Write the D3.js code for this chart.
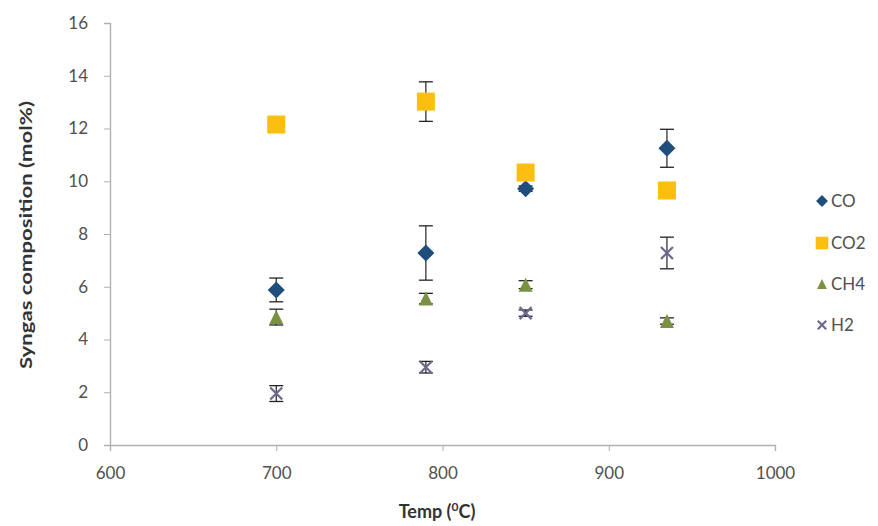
<!DOCTYPE html>
<html><head><meta charset="utf-8">
<script src="https://cdn.jsdelivr.net/npm/d3@7"></script>
<style>body{margin:0;background:#fff}svg{display:block}</style>
</head><body><svg id="c" width="878" height="526"></svg>
<script>
const temps = [700, 790, 850, 935];
const seriesNames = ["CO", "CO2", "CH4", "H2"];
const coVals  = [5.88, 7.28, 9.72, 11.25];
const coErr   = [0.45, 1.03, 0.1, 0.72];
const co2Vals = [12.15, 13.02, 10.33, 9.65];
const co2Err  = [0.1, 0.75, 0.1, 0.1];
const ch4Vals = [4.85, 5.55, 6.08, 4.7];
const ch4Err  = [0.3, 0.2, 0.15, 0.12];
const h2Vals  = [1.95, 2.95, 5.0, 7.28];
const h2Err   = [0.3, 0.22, 0.12, 0.6];
const xTicks = [600, 700, 800, 900, 1000];
const yTicks = [0, 2, 4, 6, 8, 10, 12, 14, 16];

const svg = d3.select("#c");
const x = d3.scaleLinear().domain([600, 1000]).range([110, 775]);
const y = d3.scaleLinear().domain([0, 16]).range([445, 23]);
const font = "Lato, 'Open Sans', sans-serif";

const yAxis = svg.append("g").attr("transform", "translate(110,0)")
  .call(d3.axisLeft(y).tickValues(yTicks).tickFormat(d3.format("d")).tickSize(6).tickPadding(16));
const xAxis = svg.append("g").attr("transform", "translate(0,445)")
  .call(d3.axisBottom(x).tickValues(xTicks).tickFormat(d3.format("d")).tickSize(6).tickPadding(16));
[yAxis, xAxis].forEach(a => {
  a.select(".domain").attr("stroke", "#b0b0b0").attr("stroke-width", 1.4);
  a.selectAll(".tick line").attr("stroke", "#b0b0b0");
  a.selectAll(".tick text").attr("fill", "#505050").style("font-family", font).style("font-size", "17px");
});

svg.append("text").attr("transform", "translate(32,235) rotate(-90)")
  .attr("text-anchor", "middle").style("font-family", font).style("font-size", "17px")
  .style("font-weight", "bold").attr("fill", "#333")
  .attr("textLength", 268).attr("lengthAdjust", "spacingAndGlyphs")
  .text("Syngas composition (mol%)");
const xt = svg.append("text").attr("x", 437).attr("y", 518).attr("text-anchor", "middle")
  .style("font-family", font).style("font-size", "18px").style("font-weight", "bold").attr("fill", "#333");
xt.append("tspan").text("Temp (");
xt.append("tspan").attr("dy", -7).style("font-size", "12px").text("0");
xt.append("tspan").attr("dy", 7).text("C)");

const series = [
  {name: "CO", vals: coVals, err: coErr, color: "#1f4e7d", shape: "diamond"},
  {name: "CO2", vals: co2Vals, err: co2Err, color: "#fdbf0f", shape: "square"},
  {name: "CH4", vals: ch4Vals, err: ch4Err, color: "#7a9143", shape: "triangle"},
  {name: "H2", vals: h2Vals, err: h2Err, color: "#6b6990", shape: "x"}
];

function marker(g, s, cx, cy, scale) {
  scale = scale || 1;
  if (s.shape === "diamond") {
    const r = 8.5 * scale;
    g.append("path").attr("d", `M${cx},${cy - r}L${cx + r},${cy}L${cx},${cy + r}L${cx - r},${cy}Z`)
      .attr("fill", s.color);
  } else if (s.shape === "square") {
    const w = 18 * scale;
    g.append("rect").attr("x", cx - w / 2).attr("y", cy - w / 2).attr("width", w).attr("height", w).attr("fill", s.color);
  } else if (s.shape === "triangle") {
    const h = 14 * scale, w = 14 * scale;
    g.append("path").attr("d", `M${cx},${cy - h / 2}L${cx + w / 2},${cy + h / 2}L${cx - w / 2},${cy + h / 2}Z`)
      .attr("fill", s.color);
  } else {
    const r = 6 * scale;
    g.append("path").attr("d", `M${cx - r},${cy - r}L${cx + r},${cy + r}M${cx - r},${cy + r}L${cx + r},${cy - r}`)
      .attr("stroke", s.color).attr("stroke-width", 2.2).attr("fill", "none");
  }
}

const pts = svg.append("g");
series.forEach(s => {
  temps.forEach((t, i) => {
    const g = pts.append("g");
    const cx = x(t), v = s.vals[i], e = s.err[i];
    g.append("line").attr("x1", cx).attr("x2", cx).attr("y1", y(v + e)).attr("y2", y(v - e))
      .attr("stroke", "#222").attr("stroke-width", 1.2);
    [v + e, v - e].forEach(b => g.append("line").attr("x1", cx - 7).attr("x2", cx + 7)
      .attr("y1", y(b)).attr("y2", y(b)).attr("stroke", "#222").attr("stroke-width", 1.3));
    marker(g, s, cx, y(v));
  });
});

const leg = svg.append("g");
const legY = [201, 243, 284, 325];
series.forEach((s, i) => {
  marker(leg, s, 822, legY[i], 0.7);
  leg.append("text").attr("x", 831).attr("y", legY[i] + 6).style("font-family", font)
    .style("font-size", "17px").attr("fill", "#505050").text(s.name);
});
</script></body></html>
